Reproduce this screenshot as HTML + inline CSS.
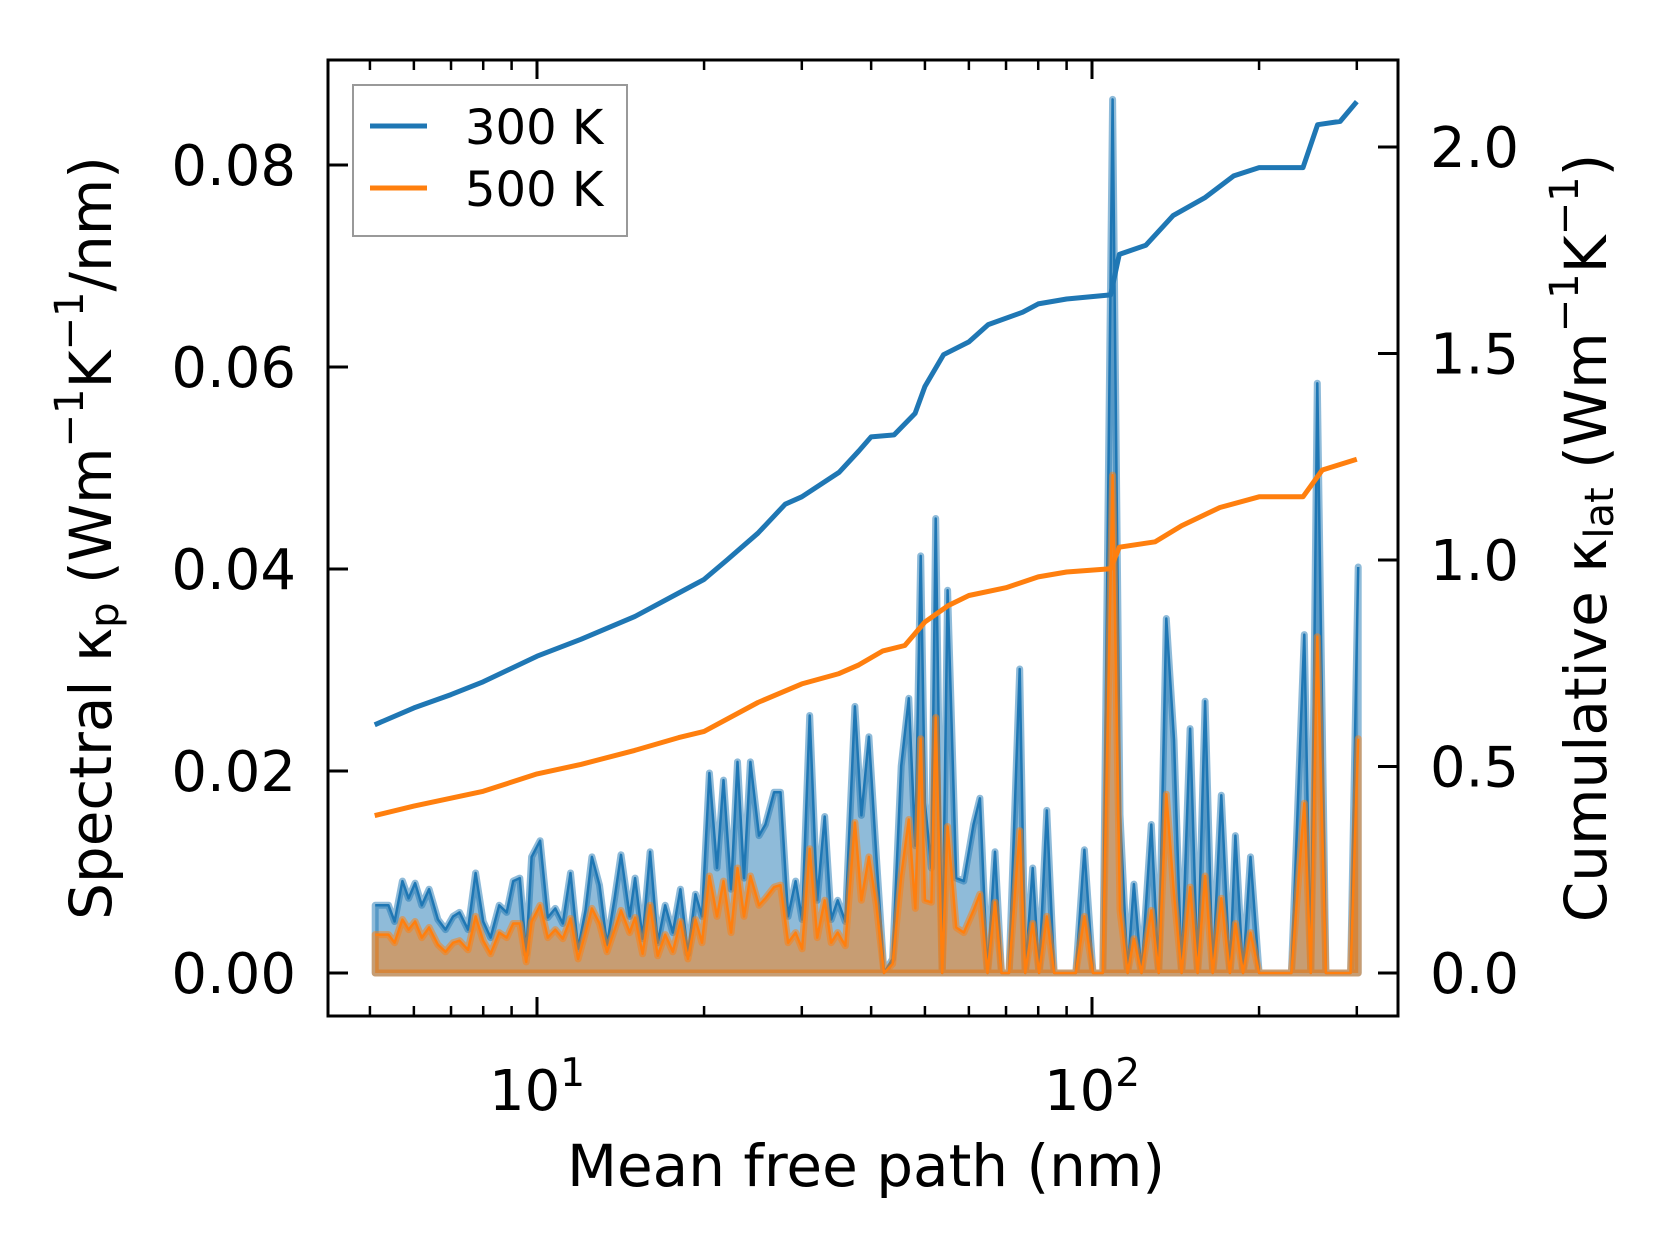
<!DOCTYPE html>
<html><head><meta charset="utf-8"><style>
html,body{margin:0;padding:0;background:#fff;}
svg{display:block;font-family:"DejaVu Sans","Liberation Sans",sans-serif;}
</style></head><body>
<svg id="chart" width="1679" height="1254" viewBox="0 0 1679 1254" xmlns="http://www.w3.org/2000/svg">
<g id="plot"></g>
<text x="95" y="538" font-size="58" text-anchor="middle" dominant-baseline="middle" transform="rotate(-90 95 538)">Spectral κ<tspan font-size="40" dy="12">p</tspan><tspan dy="-12"> (Wm</tspan><tspan font-size="40" dy="-23">−1</tspan><tspan dy="23">K</tspan><tspan font-size="40" dy="-23">−1</tspan><tspan dy="23">/nm)</tspan></text>
<text x="1590" y="538" font-size="58" text-anchor="middle" dominant-baseline="middle" transform="rotate(-90 1590 538)">Cumulative κ<tspan font-size="40" dy="12">lat</tspan><tspan dy="-12"> (Wm</tspan><tspan font-size="40" dy="-23">−1</tspan><tspan dy="23">K</tspan><tspan font-size="40" dy="-23">−1</tspan><tspan dy="23">)</tspan></text>
<text x="866" y="1186" font-size="58" text-anchor="middle">Mean free path (nm)</text>
<g>
<rect x="353" y="85" width="274" height="151" fill="#fff" fill-opacity="0.8" stroke="#999" stroke-width="2"/>
<line x1="370" y1="126" x2="427" y2="126" stroke="#1f77b4" stroke-width="5"/>
<text x="465" y="144" font-size="48">300 K</text>
<line x1="370" y1="188" x2="427" y2="188" stroke="#ff7f0e" stroke-width="5"/>
<text x="465" y="206" font-size="48">500 K</text>
</g>
</svg>
<script>
const mfp = [5.11,5.40,5.54,5.72,5.87,6.03,6.20,6.39,6.63,6.84,7.06,7.25,7.51,7.75,8.00,8.25,8.55,8.82,9.06,9.31,9.56,9.78,10.13,10.46,10.79,11.13,11.49,11.86,12.23,12.56,12.96,13.37,13.80,14.17,14.69,15.02,15.50,15.99,16.50,17.02,17.57,18.13,18.70,19.30,19.83,20.45,21.10,21.68,22.37,22.98,23.60,24.24,25.12,25.80,26.74,27.46,28.34,29.24,30.04,31.00,31.98,32.99,33.89,34.82,35.93,37.40,38.42,39.63,40.89,42.19,43.73,45.32,46.77,48.04,49.13,50.00,51.36,52.29,53.72,54.94,56.93,58.74,61.15,62.81,64.81,66.87,68.69,70.87,74.1,75.8,78.2,80.3,82.9,85.5,93.5,96.9,100.4,104.6,108.9,112.3,115.9,119.0,122.8,127.9,131.9,136.1,140.5,145.0,150.2,155.0,159.9,165.0,171.0,177.2,181.3,187.1,193.0,200.0,228.7,241.3,247.9,254.6,263.9,292.4,301.8];
const spec300 = [0.0067,0.0067,0.0051,0.0091,0.0074,0.0089,0.0067,0.0083,0.0053,0.0043,0.0056,0.0060,0.0043,0.0099,0.0051,0.0035,0.0067,0.0060,0.0091,0.0094,0.0019,0.0115,0.0131,0.0055,0.0064,0.0049,0.0099,0.0024,0.0062,0.0115,0.0087,0.0028,0.0074,0.0117,0.0056,0.0094,0.0034,0.0120,0.0030,0.0067,0.0040,0.0083,0.0019,0.0078,0.0056,0.0198,0.0104,0.0191,0.0083,0.0209,0.0094,0.0209,0.0136,0.0147,0.0179,0.0179,0.0056,0.0091,0.0053,0.0255,0.0072,0.0155,0.0053,0.0072,0.0051,0.0264,0.0156,0.0234,0.0115,0.0,0.0014,0.0205,0.0272,0.0126,0.0413,0.0168,0.0104,0.0450,0.0,0.0379,0.0094,0.0091,0.0147,0.0173,0.0,0.0120,0.0,0.0,0.0301,0.0,0.0104,0.0,0.0161,0.0,0.0,0.0122,0.0,0.0,0.0865,0.0157,0.0,0.0088,0.0,0.0147,0.0,0.0351,0.0231,0.0,0.0242,0.0,0.0269,0.0,0.0176,0.0,0.0136,0.0,0.0115,0.0,0.0,0.0335,0.0,0.0584,0.0,0.0,0.0402];
const spec500 = [0.0038,0.0038,0.0030,0.0053,0.0043,0.0051,0.0035,0.0045,0.0028,0.0021,0.0030,0.0032,0.0023,0.0056,0.0032,0.0019,0.0040,0.0035,0.0049,0.0049,0.0011,0.0051,0.0067,0.0035,0.0043,0.0034,0.0054,0.0014,0.0040,0.0064,0.0049,0.0021,0.0043,0.0062,0.0040,0.0055,0.0019,0.0067,0.0017,0.0038,0.0021,0.0051,0.0014,0.0053,0.0030,0.0096,0.0056,0.0091,0.0040,0.0104,0.0056,0.0096,0.0067,0.0074,0.0085,0.0087,0.0030,0.0040,0.0024,0.0123,0.0035,0.0072,0.0030,0.0040,0.0027,0.0149,0.0072,0.0115,0.0067,0.0,0.0009,0.0096,0.0152,0.0064,0.0232,0.0072,0.0070,0.0253,0.0,0.0145,0.0045,0.0040,0.0062,0.0078,0.0,0.0070,0.0,0.0,0.0141,0.0,0.0049,0.0,0.0056,0.0,0.0,0.0056,0.0,0.0,0.0493,0.0062,0.0,0.0034,0.0,0.0062,0.0,0.0177,0.0078,0.0,0.0085,0.0,0.0096,0.0,0.0074,0.0,0.0049,0.0,0.0040,0.0,0.0,0.0168,0.0,0.0333,0.0,0.0,0.0232];
const cumX300 = [5.1,6,7,8,10,12,15,18,20,22,25,28,30,35,38,40,44,48,50,54,60,65,75,80,90,108,112,125,140,160,180,200,240,255,280,300];
const cum300 = [0.601,0.642,0.674,0.705,0.767,0.808,0.863,0.92,0.953,1.0,1.065,1.135,1.153,1.212,1.264,1.298,1.303,1.355,1.42,1.497,1.528,1.57,1.60,1.62,1.632,1.642,1.74,1.762,1.834,1.878,1.93,1.95,1.95,2.054,2.062,2.11];
const cumX500 = [5.1,6,8,10,12,15,18,20,25,30,35,38,42,46,50,55,60,70,80,90,108,112,130,145,170,200,240,260,300];
const cum500 = [0.381,0.404,0.44,0.482,0.505,0.539,0.57,0.585,0.655,0.70,0.725,0.746,0.78,0.793,0.85,0.889,0.914,0.933,0.959,0.971,0.979,1.031,1.044,1.083,1.127,1.153,1.153,1.218,1.244];
const leftTicks = [0.00,0.02,0.04,0.06,0.08];
const leftTickLabels = ["0.00","0.02","0.04","0.06","0.08"];
const rightTicks = [0.0,0.5,1.0,1.5,2.0];
const rightTickLabels = ["0.0","0.5","1.0","1.5","2.0"];
const xMajor = [10,100];
const xMinor = [5,6,7,8,9,20,30,40,50,60,70,80,90,200,300];

const L=328,R=1398,T=60,B=1016;
const xs = v => 537 + 555*Math.log10(v/10);
const yl = v => 973 - 10100*v;
const yr = v => 973 - 413*v;
const NS="http://www.w3.org/2000/svg";
const plot=document.getElementById('plot');
function mk(tag,attrs,parent){const e=document.createElementNS(NS,tag);for(const k in attrs)e.setAttribute(k,attrs[k]);(parent||plot).appendChild(e);return e;}

function spectral(vals,color,name){
  const pts=mfp.map((m,i)=>xs(m).toFixed(1)+','+yl(vals[i]).toFixed(1));
  const area='M'+xs(mfp[0]).toFixed(1)+','+yl(0)+' L'+pts.join(' L')+' L'+xs(mfp[mfp.length-1]).toFixed(1)+','+yl(0)+' Z';
  const a=mk('path',{d:area,fill:color,'fill-opacity':0.5,stroke:color,'stroke-opacity':0.5,'stroke-width':7,'stroke-linejoin':'round'});
  
  
  const l=mk('polyline',{points:pts.join(' '),fill:'none',stroke:color,'stroke-width':2.5,'stroke-linejoin':'round'});
  
  
}
spectral(spec300,'#1f77b4','spectral-300k');
spectral(spec500,'#ff7f0e','spectral-500k');

function cum(xv,vals,color,name){
  const pts=xv.map((m,i)=>xs(m).toFixed(1)+','+yr(vals[i]).toFixed(1));
  const l=mk('polyline',{points:pts.join(' '),fill:'none',stroke:color,'stroke-width':5,'stroke-linejoin':'round'});
  
  
}
cum(cumX300,cum300,'#1f77b4','cumulative-300k');
cum(cumX500,cum500,'#ff7f0e','cumulative-500k');

const frame=mk('rect',{x:L,y:T,width:R-L,height:B-T,fill:'none',stroke:'#000','stroke-width':3});



leftTicks.forEach((v,i)=>{
  const y=yl(v);
  const t=mk('line',{x1:L,x2:L+20,y1:y,y2:y,stroke:'#000','stroke-width':3});
  
  
  const tx=mk('text',{x:L-32,y:y+20,'font-size':56,'text-anchor':'end'});
  tx.textContent=leftTickLabels[i];
  
  
});
rightTicks.forEach((v,i)=>{
  const y=yr(v);
  const t=mk('line',{x1:R-20,x2:R,y1:y,y2:y,stroke:'#000','stroke-width':3});
  
  
  const tx=mk('text',{x:R+32,y:y+20,'font-size':56,'text-anchor':'start'});
  tx.textContent=rightTickLabels[i];
  
  
});
xMinor.forEach(v=>{
  const x=xs(v);
  [[B,B-10],[T,T+10]].forEach(p=>{
    const t=mk('line',{x1:x,x2:x,y1:p[0],y2:p[1],stroke:'#000','stroke-width':2.5});
    
    
  });
});
xMajor.forEach(v=>{
  const x=xs(v);
  [[B,B-19],[T,T+19]].forEach(p=>{
    const t=mk('line',{x1:x,x2:x,y1:p[0],y2:p[1],stroke:'#000','stroke-width':3});
    
    
  });
  const tx=mk('text',{x:x,y:1110,'font-size':56,'text-anchor':'middle'});
  
  
  const base=document.createElementNS(NS,'tspan');base.textContent='10';tx.appendChild(base);
  const sup=document.createElementNS(NS,'tspan');sup.setAttribute('font-size','39');sup.setAttribute('dy','-24');sup.textContent=String(Math.round(Math.log10(v)));tx.appendChild(sup);
});
</script>
</body></html>
